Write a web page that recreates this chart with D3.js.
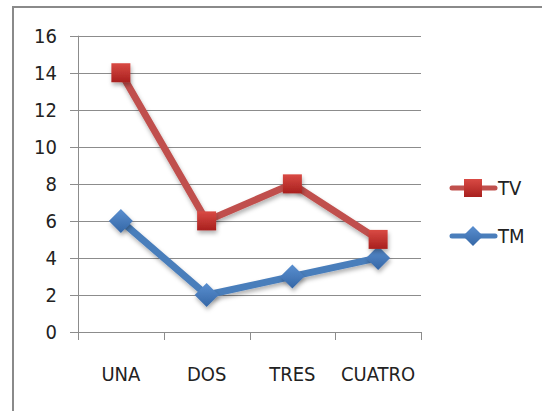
<!DOCTYPE html>
<html>
<head>
<meta charset="utf-8">
<script src="https://cdn.jsdelivr.net/npm/d3@7"></script>
<style>
  body { margin: 0; background: #fff; }
  text { font-family: "Liberation Sans Narrow", "DejaVu Sans Condensed", sans-serif; fill: #222; }
</style>
</head>
<body>
<div id="chart"></div>
<script>
// chart data
const categories = ["UNA", "DOS", "TRES", "CUATRO"];
const tvValues = [14, 6, 8, 5];
const tmValues = [6, 2, 3, 4];
const yTicks = [0, 2, 4, 6, 8, 10, 12, 14, 16];

const width = 542, height = 411;
const plot = { left: 78, right: 421, top: 35.7, bottom: 332 };
const FONT_SIZE = "20px";

const svg = d3.select("#chart").append("svg")
  .attr("width", width)
  .attr("height", height);

const defs = svg.append("defs");

// soft shadow used under lines and markers
const shadow = defs.append("filter").attr("id", "shadow")
  .attr("x", "-50%").attr("y", "-50%").attr("width", "200%").attr("height", "200%");
shadow.append("feDropShadow")
  .attr("dx", 1).attr("dy", 3).attr("stdDeviation", 2)
  .attr("flood-color", "#000").attr("flood-opacity", 0.3);

const redGrad = defs.append("linearGradient").attr("id", "redGrad")
  .attr("x1", 0).attr("y1", 0).attr("x2", 0).attr("y2", 1);
redGrad.append("stop").attr("offset", "0%").attr("stop-color", "#d94a44");
redGrad.append("stop").attr("offset", "100%").attr("stop-color", "#a8201e");

const blueGrad = defs.append("linearGradient").attr("id", "blueGrad")
  .attr("x1", 0).attr("y1", 0).attr("x2", 0).attr("y2", 1);
blueGrad.append("stop").attr("offset", "0%").attr("stop-color", "#5a8fd0");
blueGrad.append("stop").attr("offset", "100%").attr("stop-color", "#3567a6");

// outer frame (cut off at right and bottom like the reference)
svg.append("rect")
  .attr("x", 13).attr("y", 7)
  .attr("width", 700).attr("height", 600)
  .attr("fill", "none")
  .attr("stroke", "#8a8a8a")
  .attr("stroke-width", 2);

const x = d3.scaleBand().domain(categories).range([plot.left, plot.right]).padding(0);
const y = d3.scaleLinear().domain([0, 16]).range([plot.bottom, plot.top]);

// gridlines
svg.append("g")
  .selectAll("line")
  .data(yTicks)
  .join("line")
  .attr("x1", plot.left - 8)
  .attr("x2", plot.right)
  .attr("y1", d => Math.round(y(d)) + 0.5)
  .attr("y2", d => Math.round(y(d)) + 0.5)
  .attr("stroke", "#8c8c8c")
  .attr("stroke-width", 1);

// y axis line
svg.append("line")
  .attr("x1", plot.left + 0.5).attr("x2", plot.left + 0.5)
  .attr("y1", plot.top).attr("y2", plot.bottom + 8)
  .attr("stroke", "#8c8c8c");

// x tick marks at category boundaries
const boundaries = categories.map(c => x(c)).concat([plot.right]);
svg.append("g")
  .selectAll("line")
  .data(boundaries)
  .join("line")
  .attr("x1", d => Math.round(d) + 0.5)
  .attr("x2", d => Math.round(d) + 0.5)
  .attr("y1", plot.bottom)
  .attr("y2", plot.bottom + 8)
  .attr("stroke", "#8c8c8c");

// y tick labels
svg.append("g")
  .selectAll("text")
  .data(yTicks)
  .join("text")
  .attr("x", 57)
  .attr("y", d => y(d))
  .attr("dy", "0.36em")
  .attr("text-anchor", "end")
  .style("font-size", FONT_SIZE)
  .text(d => d);

// category labels
svg.append("g")
  .selectAll("text")
  .data(categories)
  .join("text")
  .attr("x", d => x(d) + x.bandwidth() / 2)
  .attr("y", 381)
  .attr("text-anchor", "middle")
  .style("font-size", FONT_SIZE)
  .text(d => d);

const line = d3.line()
  .x((d, i) => x(categories[i]) + x.bandwidth() / 2)
  .y(d => y(d));

const series = [
  { name: "TV", values: tvValues, color: "#c0504d", fill: "url(#redGrad)", shape: "square" },
  { name: "TM", values: tmValues, color: "#4a7ebb", fill: "url(#blueGrad)", shape: "diamond" }
];

function marker(g, shape, fill, cx, cy) {
  if (shape === "square") {
    g.append("rect")
      .attr("x", cx - 9.5).attr("y", cy - 9.5)
      .attr("width", 19).attr("height", 19)
      .attr("fill", fill)
      .attr("filter", "url(#shadow)");
  } else {
    g.append("path")
      .attr("d", `M${cx},${cy - 12}L${cx + 12},${cy}L${cx},${cy + 12}L${cx - 12},${cy}Z`)
      .attr("fill", fill)
      .attr("filter", "url(#shadow)");
  }
}

// draw TM first so TV sits on top
series.slice().reverse().forEach(s => {
  const g = svg.append("g");
  g.append("path")
    .datum(s.values)
    .attr("d", line)
    .attr("fill", "none")
    .attr("stroke", s.color)
    .attr("stroke-width", 7)
    .attr("stroke-linejoin", "round")
    .attr("filter", "url(#shadow)");
  s.values.forEach((v, i) => {
    marker(g, s.shape, s.fill, x(categories[i]) + x.bandwidth() / 2, y(v));
  });
});

// legend
const legendY = [188, 236];
series.forEach((s, i) => {
  const g = svg.append("g");
  g.append("line")
    .attr("x1", 452).attr("x2", 495)
    .attr("y1", legendY[i]).attr("y2", legendY[i])
    .attr("stroke", s.color)
    .attr("stroke-width", 5)
    .attr("stroke-linecap", "round");
  if (s.shape === "square") {
    g.append("rect")
      .attr("x", 464).attr("y", legendY[i] - 9)
      .attr("width", 18).attr("height", 18)
      .attr("fill", s.fill);
  } else {
    const cx = 473, cy = legendY[i];
    g.append("path")
      .attr("d", `M${cx},${cy - 10}L${cx + 10},${cy}L${cx},${cy + 10}L${cx - 10},${cy}Z`)
      .attr("fill", s.fill);
  }
  g.append("text")
    .attr("x", 498)
    .attr("y", legendY[i])
    .attr("dy", "0.36em")
    .style("font-size", FONT_SIZE)
    .text(s.name);
});
</script>
</body>
</html>
